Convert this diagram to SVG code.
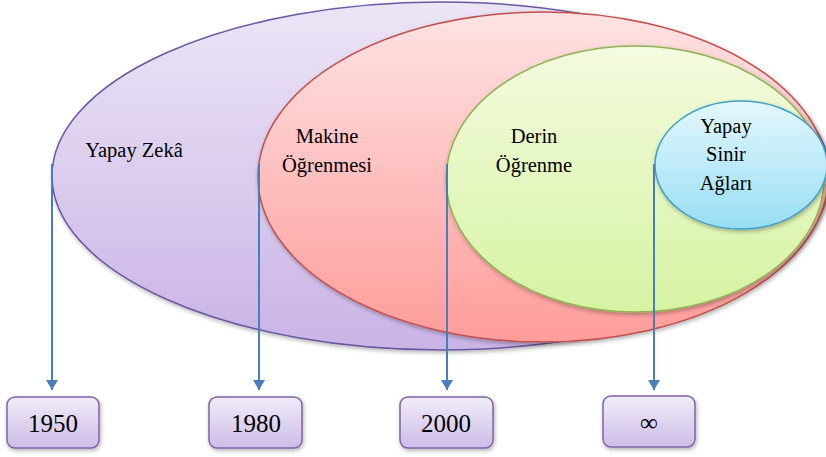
<svg xmlns="http://www.w3.org/2000/svg" width="826" height="457" viewBox="0 0 826 457">
<defs>
<linearGradient id="gP" x1="0" y1="0" x2="0" y2="1"><stop offset="0" stop-color="#ece5f6"/><stop offset="1" stop-color="#c9b4e6"/></linearGradient>
<linearGradient id="gR" x1="0" y1="0" x2="0" y2="1"><stop offset="0" stop-color="#fde3e3"/><stop offset="1" stop-color="#ff9c9a"/></linearGradient>
<linearGradient id="gG" x1="0" y1="0" x2="0" y2="1"><stop offset="0" stop-color="#f4fbdf"/><stop offset="1" stop-color="#d6f3a2"/></linearGradient>
<linearGradient id="gB" x1="0" y1="0" x2="0" y2="1"><stop offset="0" stop-color="#e4f7fc"/><stop offset="1" stop-color="#98def5"/></linearGradient>
<linearGradient id="gBox" x1="0" y1="0" x2="0" y2="1"><stop offset="0" stop-color="#f1ecf8"/><stop offset="1" stop-color="#cdbde8"/></linearGradient>
<filter id="sh" x="-10%" y="-10%" width="120%" height="130%"><feDropShadow dx="1" dy="2" stdDeviation="2" flood-color="#000" flood-opacity="0.3"/></filter>
<marker id="arr" markerWidth="12" markerHeight="12" refX="10" refY="6" orient="auto" markerUnits="userSpaceOnUse" viewBox="0 0 10 12"><path d="M0,0 L10,6 L0,12 Z" fill="#4a7ebb"/></marker>
<style>
.box{fill:url(#gBox);stroke:#7e64a8;stroke-width:1.5;filter:url(#sh)}
.c{stroke:#4a7ebb;stroke-width:2;fill:none}
text{font-family:"Liberation Serif",serif;text-anchor:middle;fill:#000}
</style>
</defs>
<g id="yapay-zeka">
<ellipse cx="441" cy="176" rx="389" ry="174" fill="url(#gP)" stroke="#6b58a0" stroke-width="1.5" filter="url(#sh)"/>
<text x="134" y="157" font-family="Liberation Serif" font-size="20.5">Yapay Zekâ</text>
</g>
<g id="makine-ogrenmesi">
<ellipse cx="543" cy="177" rx="285" ry="165" fill="url(#gR)" stroke="#c0504d" stroke-width="1.5" filter="url(#sh)"/>
<text x="327" y="143" font-family="Liberation Serif" font-size="20.5">Makine</text>
<text x="327" y="172" font-family="Liberation Serif" font-size="20.5">Öğrenmesi</text>
</g>
<g id="derin-ogrenme">
<ellipse cx="635" cy="179" rx="189" ry="133" fill="url(#gG)" stroke="#8fb454" stroke-width="1.5" filter="url(#sh)"/>
<text x="534" y="143" font-family="Liberation Serif" font-size="20.5">Derin</text>
<text x="534" y="172" font-family="Liberation Serif" font-size="20.5">Öğrenme</text>
</g>
<g id="yapay-sinir-aglari">
<ellipse cx="741" cy="165" rx="86" ry="64" fill="url(#gB)" stroke="#3ca0c8" stroke-width="1.5" filter="url(#sh)"/>
<text x="726" y="133" font-family="Liberation Serif" font-size="20.5">Yapay</text>
<text x="726" y="161" font-family="Liberation Serif" font-size="20.5">Sinir</text>
<text x="726" y="190" font-family="Liberation Serif" font-size="20.5">Ağları</text>
</g>
<g id="connectors">
<line class="c" x1="52" y1="164" x2="52" y2="390" marker-end="url(#arr)"/>
<line class="c" x1="259" y1="164" x2="259" y2="390" marker-end="url(#arr)"/>
<line class="c" x1="447" y1="164" x2="447" y2="390" marker-end="url(#arr)"/>
<line class="c" x1="654" y1="164" x2="654" y2="390" marker-end="url(#arr)"/>
</g>
<g id="y1950"><rect class="box" x="7" y="397" width="92" height="51" rx="8"/><text x="53" y="432" font-family="Liberation Serif" font-size="25">1950</text></g>
<g id="y1980"><rect class="box" x="209" y="397" width="93" height="51" rx="8"/><text x="256" y="432" font-family="Liberation Serif" font-size="25">1980</text></g>
<g id="y2000"><rect class="box" x="400" y="397" width="93" height="51" rx="8"/><text x="446" y="432" font-family="Liberation Serif" font-size="25">2000</text></g>
<g id="yinf"><rect class="box" x="603" y="396" width="92" height="51" rx="8"/><text x="649" y="431" font-family="Liberation Serif" font-size="25">∞</text></g>
</svg>
